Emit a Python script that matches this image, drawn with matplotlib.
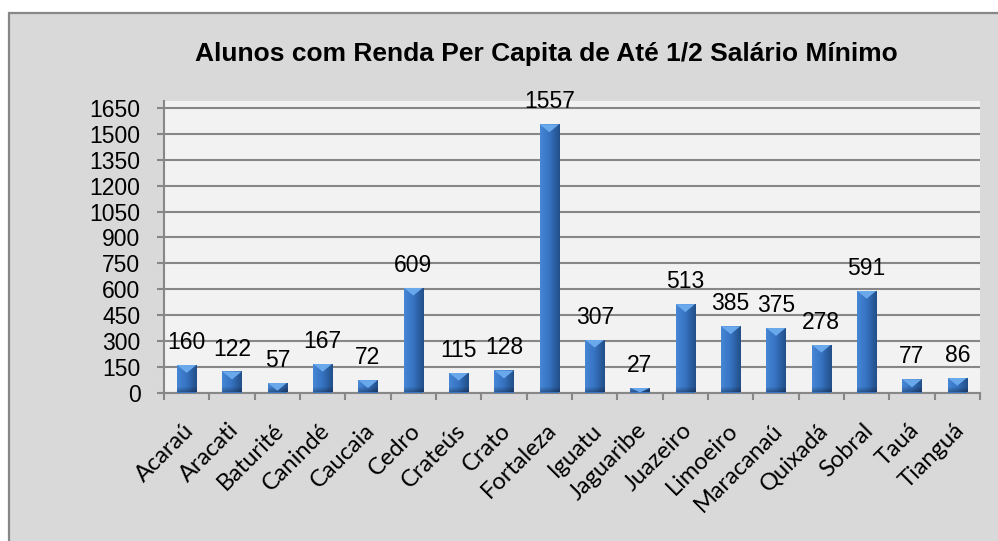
import numpy as np
import matplotlib
matplotlib.use('Agg')
import matplotlib.pyplot as plt
from matplotlib.patches import Rectangle, Polygon
from matplotlib.colors import to_rgb
import matplotlib.transforms as mtransforms

categories = ['Acaraú', 'Aracati', 'Baturité', 'Canindé', 'Caucaia', 'Cedro',
              'Crateús', 'Crato', 'Fortaleza', 'Iguatu', 'Jaguaribe', 'Juazeiro',
              'Limoeiro', 'Maracanaú', 'Quixadá', 'Sobral', 'Tauá', 'Tianguá']
values = [160, 122, 57, 167, 72, 609, 115, 128, 1557, 307, 27, 513, 385, 375,
          278, 591, 77, 86]
yticks = [0, 150, 300, 450, 600, 750, 900, 1050, 1200, 1350, 1500, 1650]
title = 'Alunos com Renda Per Capita de Até 1/2 Salário Mínimo'

plt.rcParams['font.family'] = ['Liberation Sans', 'DejaVu Sans']
num_family = ['Liberation Sans Narrow', 'Liberation Sans', 'DejaVu Sans']

W, H = 998, 541
fig = plt.figure(figsize=(W / 100, H / 100), dpi=100, facecolor='white')

# outer chart frame (cut at right/bottom as in the reference)
fig.patches.append(Rectangle((9 / W, -0.05), 1.0, 1 - 13 / H + 0.05,
                             transform=fig.transFigure, facecolor='#d9d9d9',
                             edgecolor='#878787', linewidth=1.6, zorder=-5))

ax = fig.add_axes([164 / W, 1 - 392.5 / H, 816 / W, 291.5 / H])
ax.set_facecolor('#f2f2f2')

grid_col = '#878787'
x = np.arange(len(categories))
bar_w = 0.43
ymax = 1692

bars = ax.bar(x, values, width=bar_w, color='#3a76c4', edgecolor='none', zorder=3)

# shaded bar body
cols = [to_rgb('#4787d6'), to_rgb('#3d7bcb'), to_rgb('#3672bf'), to_rgb('#2c5fa2'), to_rgb('#234f8a')]
prof = np.linspace(0, 1, 40)
stops = np.linspace(0, 1, len(cols))
row = np.stack([np.interp(prof, stops, [c[k] for c in cols]) for k in range(3)], axis=-1)
px_per_unit = 284.2 / 1650.0
for b, v in zip(bars, values):
    npx = max(int(round(v * px_per_unit)), 2)
    img = np.repeat(row[None, :, :], npx, axis=0)
    fade = np.ones(npx)
    nb = min(5, npx)
    fade[-nb:] = np.linspace(0.95, 0.72, nb)
    img = img * fade[:, None, None]
    x0 = b.get_x()
    x1 = x0 + b.get_width()
    im = ax.imshow(img, extent=[x0, x1, 0, v], aspect='auto', zorder=4,
                   interpolation='bilinear')
    im.set_clip_path(b)
    th = min(8 / px_per_unit, v)
    tri = Polygon([[x0, v], [x1, v], [(x0 + x1) / 2, v - th]], closed=True,
                  facecolor='#6aa8ec', edgecolor='none', zorder=5)
    ax.add_patch(tri)
    tri.set_clip_path(b)

ax.set_xlim(-0.5, len(categories) - 0.5)
ax.set_ylim(0, ymax)

ax.set_yticks(yticks)
ax.set_yticklabels([str(t) for t in yticks], family=num_family, fontsize=16.5)
ax.yaxis.grid(True, color=grid_col, linewidth=1.5)
ax.set_axisbelow(True)
ax.tick_params(axis='y', length=5, width=1.5, color=grid_col,
               pad=12, direction='out')

ax.set_xticks(x)
ax.set_xticks(np.arange(-0.5, len(categories), 1.0), minor=True)
ax.tick_params(axis='x', which='major', length=0, pad=19.5)
ax.tick_params(axis='x', which='minor', length=5, width=1.5, color=grid_col,
               direction='out')
ax.set_xticklabels(categories, rotation=45, ha='right', va='top',
                   rotation_mode='anchor', fontsize=17,
                   family=['Lato', 'DejaVu Sans'])
offset = mtransforms.ScaledTranslation(-4 / 100, 0, fig.dpi_scale_trans)
for lab in ax.get_xticklabels():
    lab.set_transform(lab.get_transform() + offset)

for s in ['top', 'right']:
    ax.spines[s].set_visible(False)
for s in ['left', 'bottom']:
    ax.spines[s].set_color(grid_col)
    ax.spines[s].set_linewidth(1.5)

for xi, v in zip(x, values):
    ax.annotate(str(v), (xi, v), xytext=(0, 11.5), textcoords='offset points',
                ha='center', va='baseline', fontsize=16.5, color='black',
                family=num_family, zorder=6, annotation_clip=False)

fig.text(546 / W, 1 - 61 / H, title, ha='center', va='baseline', fontsize=19,
         fontweight='bold', color='black')

fig.savefig('out.png', dpi=100, facecolor=fig.get_facecolor())
